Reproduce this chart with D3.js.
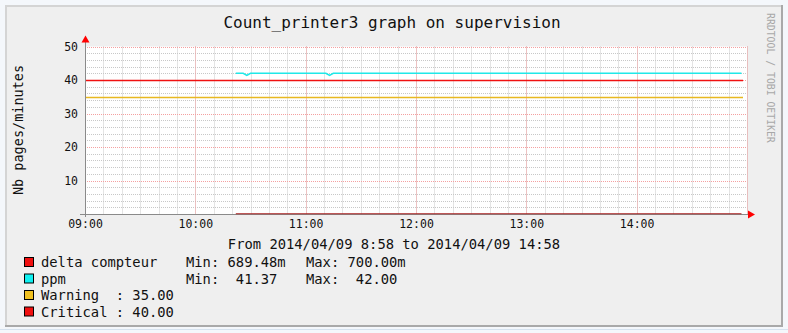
<!DOCTYPE html>
<html>
<head>
<meta charset="utf-8">
<script src="https://cdn.jsdelivr.net/npm/d3@7/dist/d3.min.js"></script>
<style>
  body { margin: 0; background: #f4f7fb; }
  svg { display: block; font-family: "DejaVu Sans Mono", monospace; }
</style>
</head>
<body>
<svg></svg>
<script>
// Data
const ppmTimes = ['10:22', '10:26', '10:28', '10:30', '11:11', '11:13', '11:15', '14:57'];
const ppmValues = [42, 42, 41.37, 42, 42, 41.37, 42, 42];
const deltaTimes = ['10:22', '10:26', '10:28', '10:30', '11:11', '11:13', '11:15', '14:57'];
const deltaValues = [0.7, 0.7, 0.68948, 0.7, 0.7, 0.68948, 0.7, 0.7];
const warningValue = 35;
const criticalValue = 40;
const yTicks = [10, 20, 30, 40, 50];

const legendNames = ['delta compteur', 'ppm', 'Warning  : 35.00', 'Critical : 40.00'];
const legendColors = ['#f01010', '#10f0f0', '#f0c020', '#f01010'];
const legendMin = ['689.48m', ' 41.37'];
const legendMax = ['700.00m', ' 42.00'];

// Constants
const width = 788;
const height = 333;
const plotLeft = 85;
const plotRight = 747;
const plotTop = 46.5;
const plotBottom = 214;

const parseT = d3.timeParse('%Y-%m-%d %H:%M');
const t = s => parseT('2014-04-09 ' + s);

const svg = d3.select('svg')
    .attr('width', width)
    .attr('height', height);

// frame
svg.append('rect')
    .attr('x', 5).attr('y', 5)
    .attr('width', 778).attr('height', 322)
    .attr('fill', '#a9a9a9');
svg.append('rect')
    .attr('x', 5).attr('y', 5)
    .attr('width', 776).attr('height', 320)
    .attr('fill', '#d4d4d4');
svg.append('rect')
    .attr('x', 7).attr('y', 7)
    .attr('width', 774).attr('height', 318)
    .attr('fill', '#efefef');
svg.append('line')
    .attr('x1', 0).attr('x2', width)
    .attr('y1', 329.5).attr('y2', 329.5)
    .attr('stroke', '#d6e2ef');

// scales
const x = d3.scaleTime()
    .domain([t('09:00'), t('15:00')])
    .range([plotLeft, plotRight]);

const y = d3.scaleLinear()
    .domain([0, 50])
    .range([plotBottom, plotTop]);

// plot background
svg.append('rect')
    .attr('x', plotLeft).attr('y', plotTop)
    .attr('width', plotRight - plotLeft)
    .attr('height', plotBottom - plotTop)
    .attr('fill', '#ffffff');

// minor grid
const grid = svg.append('g');
grid.selectAll('.vminor')
    .data(x.ticks(d3.timeMinute.every(10))).enter()
    .append('line')
    .attr('x1', d => Math.round(x(d)) + 0.5)
    .attr('x2', d => Math.round(x(d)) + 0.5)
    .attr('y1', plotTop).attr('y2', plotBottom)
    .attr('stroke', '#c8c8c8')
    .attr('stroke-dasharray', '1,1');

grid.selectAll('.hminor')
    .data(y.ticks(25)).enter()
    .append('line')
    .attr('x1', plotLeft).attr('x2', plotRight)
    .attr('y1', d => Math.round(y(d)) + 0.5)
    .attr('y2', d => Math.round(y(d)) + 0.5)
    .attr('stroke', '#c8c8c8')
    .attr('stroke-dasharray', '1,1');

// major grid
grid.selectAll('.vmajor')
    .data(x.ticks(d3.timeHour.every(1))).enter()
    .append('line')
    .attr('x1', d => Math.round(x(d)) + 0.5)
    .attr('x2', d => Math.round(x(d)) + 0.5)
    .attr('y1', plotTop).attr('y2', plotBottom)
    .attr('stroke', '#f4a0a0')
    .attr('stroke-dasharray', '1,1');

grid.selectAll('.hmajor')
    .data(yTicks).enter()
    .append('line')
    .attr('x1', plotLeft).attr('x2', plotRight)
    .attr('y1', d => Math.round(y(d)) + 0.5)
    .attr('y2', d => Math.round(y(d)) + 0.5)
    .attr('stroke', '#f4a0a0')
    .attr('stroke-dasharray', '1,1');

// threshold lines
svg.append('line')
    .attr('x1', plotLeft).attr('x2', plotRight - 4)
    .attr('y1', Math.round(y(warningValue)) + 0.5)
    .attr('y2', Math.round(y(warningValue)) + 0.5)
    .attr('stroke', '#e8b820')
    .attr('stroke-width', 1.4);

svg.append('line')
    .attr('x1', plotLeft).attr('x2', plotRight - 4)
    .attr('y1', Math.round(y(criticalValue)) + 0.5)
    .attr('y2', Math.round(y(criticalValue)) + 0.5)
    .attr('stroke', '#f01010')
    .attr('stroke-width', 1.5);

// series
const line = d3.line()
    .x(d => x(d[0]))
    .y(d => y(d[1]));

svg.append('path')
    .datum(ppmTimes.map((d, i) => [t(d), ppmValues[i]]))
    .attr('fill', 'none')
    .attr('stroke', '#20e8e8')
    .attr('stroke-width', 1.5)
    .attr('d', line);

// axes
svg.append('line')
    .attr('x1', plotLeft - 5).attr('x2', plotRight + 2)
    .attr('y1', plotBottom + 0.5).attr('y2', plotBottom + 0.5)
    .attr('stroke', '#8a8a8a');
svg.append('line')
    .attr('x1', plotLeft + 0.5).attr('x2', plotLeft + 0.5)
    .attr('y1', plotTop - 8).attr('y2', plotBottom + 3)
    .attr('stroke', '#8a8a8a');

svg.append('path')
    .datum(deltaTimes.map((d, i) => [t(d), deltaValues[i]]))
    .attr('fill', 'none')
    .attr('stroke', '#a82020')
    .attr('stroke-width', 1.1)
    .attr('d', line.y(d => plotBottom + 0.5 - (y(0) - y(d[1])) * 0.3));

// arrows
svg.append('path')
    .attr('d', `M${plotRight + 1},${plotBottom - 3.5} L${plotRight + 8},${plotBottom + 0.5} L${plotRight + 1},${plotBottom + 4.5} Z`)
    .attr('fill', '#ff0000');
svg.append('path')
    .attr('d', `M${plotLeft - 3.5},${plotTop - 4} L${plotLeft + 0.5},${plotTop - 11} L${plotLeft + 4.5},${plotTop - 4} Z`)
    .attr('fill', '#ff0000');

// x axis labels
const xAxis = d3.axisBottom(x)
    .ticks(d3.timeHour.every(1))
    .tickFormat(d3.timeFormat('%H:%M'))
    .tickSize(0)
    .tickPadding(6);

const xg = svg.append('g')
    .attr('transform', `translate(0, ${plotBottom})`)
    .call(xAxis);
xg.select('.domain').remove();
xg.selectAll('.tick')
    .filter(d => d >= t('15:00'))
    .remove();
xg.selectAll('text')
    .attr('font-family', '"DejaVu Sans Mono", monospace')
    .attr('font-size', 11.5)
    .attr('fill', '#111');

// y axis labels
const yAxis = d3.axisLeft(y)
    .tickValues(yTicks)
    .tickSize(0)
    .tickPadding(7);

const yg = svg.append('g')
    .attr('transform', `translate(${plotLeft}, 0)`)
    .call(yAxis);
yg.select('.domain').remove();
yg.selectAll('text')
    .attr('font-family', '"DejaVu Sans Mono", monospace')
    .attr('font-size', 11.5)
    .attr('fill', '#111');

// titles
svg.append('text')
    .attr('x', 392)
    .attr('y', 28)
    .attr('text-anchor', 'middle')
    .attr('font-size', 16)
    .attr('fill', '#111')
    .text('Count_printer3 graph on supervision');

svg.append('text')
    .attr('transform', 'translate(23, 130) rotate(-90)')
    .attr('text-anchor', 'middle')
    .attr('font-size', 13.5)
    .attr('fill', '#111')
    .text('Nb pages/minutes');

svg.append('text')
    .attr('transform', 'translate(767, 13) rotate(90)')
    .attr('font-size', 9.8)
    .attr('fill', '#a8a8a8')
    .text('RRDTOOL / TOBI OETIKER');

svg.append('text')
    .attr('x', 394)
    .attr('y', 249)
    .attr('text-anchor', 'middle')
    .attr('font-size', 13.8)
    .attr('fill', '#111')
    .text('From 2014/04/09 8:58 to 2014/04/09 14:58');

// legend
const legend = svg.append('g')
    .attr('font-size', 13.8)
    .attr('fill', '#111');

const rowY = i => 267 + i * 16.5;

legend.selectAll('rect')
    .data(legendColors).enter()
    .append('rect')
    .attr('x', 24.5)
    .attr('y', (d, i) => rowY(i) - 9.5)
    .attr('width', 9)
    .attr('height', 9)
    .attr('fill', d => d)
    .attr('stroke', '#000');

legend.selectAll('.name')
    .data(legendNames).enter()
    .append('text')
    .attr('x', 41)
    .attr('y', (d, i) => rowY(i))
    .style('white-space', 'pre')
    .text(d => d);

legend.selectAll('.min')
    .data(legendMin).enter()
    .append('text')
    .attr('x', 186)
    .attr('y', (d, i) => rowY(i))
    .style('white-space', 'pre')
    .text(d => `Min: ${d}`);

legend.selectAll('.max')
    .data(legendMax).enter()
    .append('text')
    .attr('x', 306)
    .attr('y', (d, i) => rowY(i))
    .style('white-space', 'pre')
    .text(d => `Max: ${d}`);
</script>
</body>
</html>
